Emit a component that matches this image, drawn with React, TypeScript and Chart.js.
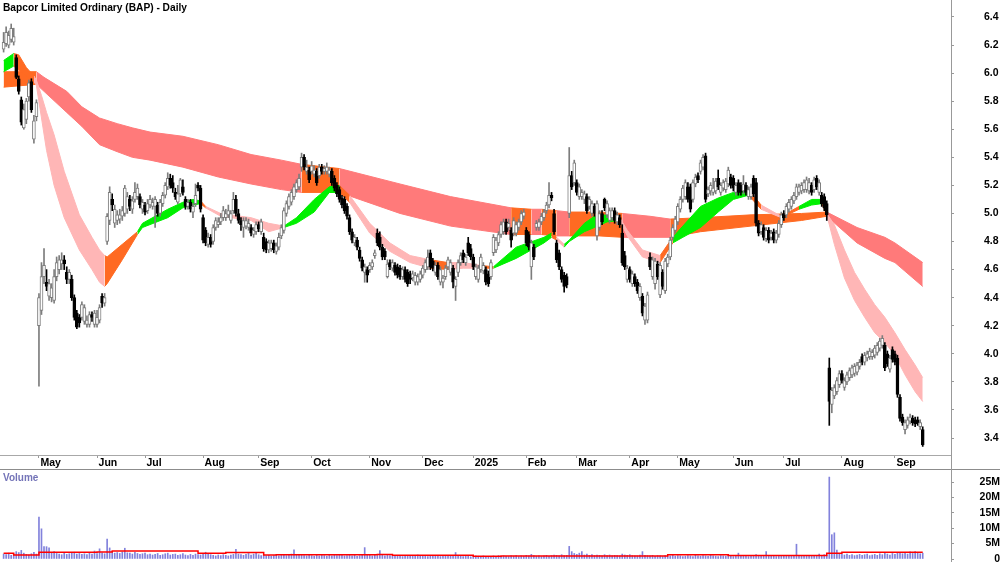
import { useEffect, useRef } from 'react';
import { Chart, registerables } from 'chart.js';

Chart.register(...registerables);

const FONT = "'Liberation Sans', Arial, Helvetica, sans-serif";
const TITLE = 'Bapcor Limited Ordinary (BAP) - Daily';

// trading-day index 0 = 10 Apr 2024 ... 364 = 16 Sep 2025
const monthTickIndex = [14, 37, 56, 79, 101, 122, 145, 166, 186, 207, 227, 248, 267, 289, 309, 332, 353];
const monthTickLabels = ['May', 'Jun', 'Jul', 'Aug', 'Sep', 'Oct', 'Nov', 'Dec', '2025', 'Feb', 'Mar', 'Apr', 'May', 'Jun', 'Jul', 'Aug', 'Sep'];
const priceTicks = [3.4, 3.6, 3.8, 4.0, 4.2, 4.4, 4.6, 4.8, 5.0, 5.2, 5.4, 5.6, 5.8, 6.0, 6.2, 6.4];
const volumeTicks = [0, 5, 10, 15, 20, 25];
const volumeTickLabels = ['0', '5M', '10M', '15M', '20M', '25M'];

const opens = [
  6.17,6.21,6.20,6.24,6.22,6.11,5.96,5.81,5.61,5.67,
  5.83,5.94,5.53,5.69,4.20,4.31,4.55,4.51,4.41,4.40,
  4.38,4.55,4.60,4.64,4.67,4.58,4.53,4.53,4.40,4.29,
  4.26,4.26,4.23,4.21,4.21,4.28,4.21,4.21,4.24,4.41,
  4.36,4.80,4.95,5.10,4.93,4.95,4.96,4.98,5.00,5.03,
  5.10,5.03,5.10,5.12,5.12,5.03,5.06,5.02,5.06,5.05,
  5.05,5.06,5.00,5.07,5.13,5.19,5.25,5.22,5.15,5.08,
  5.14,5.19,5.10,5.05,5.08,5.01,5.07,5.20,5.18,4.97,
  4.88,4.78,4.83,4.80,4.90,4.92,4.94,4.97,4.97,4.99,
  4.95,5.02,5.10,5.00,4.95,4.90,4.91,4.90,4.90,4.85,
  4.87,4.92,4.87,4.83,4.80,4.74,4.75,4.79,4.73,4.76,
  4.84,4.88,5.00,5.05,5.08,5.12,5.17,5.19,5.33,5.40,
  5.30,5.31,5.30,5.28,5.30,5.27,5.33,5.30,5.30,5.28,
  5.30,5.25,5.20,5.17,5.11,5.10,5.05,4.97,4.87,4.79,
  4.81,4.74,4.67,4.58,4.60,4.60,4.62,4.70,4.86,4.83,
  4.76,4.73,4.55,4.65,4.61,4.63,4.62,4.61,4.55,4.60,
  4.58,4.57,4.54,4.51,4.51,4.53,4.56,4.60,4.62,4.72,
  4.66,4.58,4.63,4.51,4.51,4.55,4.62,4.58,4.61,4.48,
  4.58,4.65,4.72,4.65,4.79,4.75,4.69,4.55,4.53,4.60,
  4.59,4.60,4.57,4.55,4.72,4.74,4.79,4.85,4.87,4.94,
  4.90,4.88,4.86,4.86,4.90,4.94,4.98,4.88,4.85,4.62,
  4.76,4.90,4.90,4.94,4.97,5.02,5.06,5.13,5.00,4.79,
  4.72,4.60,4.56,4.55,5.00,5.27,5.22,5.22,5.12,5.12,
  5.10,5.12,5.05,5.00,5.05,4.84,4.90,5.00,5.10,4.99,
  4.95,4.97,5.02,4.94,4.97,4.86,4.70,4.53,4.60,4.50,
  4.55,4.51,4.40,4.41,4.24,4.24,4.69,4.55,4.50,4.64,
  4.42,4.58,4.45,4.64,4.69,4.83,4.88,4.94,5.03,5.10,
  5.12,5.19,5.19,5.10,5.21,5.27,5.30,5.33,5.41,5.14,
  5.16,5.15,5.16,5.25,5.15,5.18,5.17,5.21,5.26,5.25,
  5.15,5.22,5.20,5.16,5.20,5.12,5.12,5.25,5.22,4.93,
  4.87,4.90,4.82,4.88,4.83,4.87,4.81,4.85,4.92,5.00,
  4.99,5.03,5.05,5.09,5.12,5.15,5.16,5.17,5.17,5.16,
  5.20,5.17,5.25,5.15,5.13,5.12,5.07,3.90,3.64,3.70,
  3.73,3.78,3.86,3.76,3.80,3.83,3.85,3.86,3.87,3.91,
  3.98,3.94,3.97,3.98,3.98,3.99,4.01,4.04,4.06,4.06,
  4.00,3.89,4.03,4.00,3.97,3.69,3.55,3.46,3.49,3.52,
  3.54,3.53,3.53,3.48,3.46,
];
const highs = [
  6.29,6.33,6.30,6.35,6.32,6.13,5.98,5.83,5.78,5.82,
  5.95,5.96,5.70,5.81,4.43,4.65,4.75,4.60,4.53,4.50,
  4.60,4.69,4.70,4.72,4.70,4.62,4.60,4.56,4.42,4.31,
  4.28,4.37,4.35,4.27,4.30,4.30,4.31,4.31,4.35,4.43,
  4.43,5.00,5.19,5.14,5.06,5.02,5.03,5.05,5.20,5.15,
  5.13,5.12,5.22,5.21,5.14,5.10,5.08,5.10,5.13,5.11,
  5.12,5.08,5.10,5.15,5.22,5.29,5.28,5.27,5.18,5.20,
  5.25,5.24,5.12,5.10,5.10,5.07,5.21,5.22,5.20,4.99,
  4.90,4.86,4.85,4.92,4.97,4.97,5.00,5.05,5.03,5.06,
  5.02,5.15,5.13,5.03,4.97,4.97,4.97,4.96,4.92,4.90,
  4.94,4.94,4.96,4.86,4.82,4.81,4.81,4.81,4.79,4.86,
  4.92,5.04,5.09,5.14,5.17,5.21,5.24,5.28,5.43,5.42,
  5.38,5.33,5.37,5.34,5.32,5.35,5.35,5.34,5.36,5.33,
  5.32,5.27,5.22,5.19,5.13,5.12,5.07,4.99,4.89,4.85,
  4.83,4.76,4.69,4.64,4.62,4.65,4.67,4.74,4.89,4.87,
  4.78,4.75,4.67,4.67,4.67,4.65,4.64,4.63,4.62,4.62,
  4.60,4.59,4.59,4.58,4.57,4.59,4.63,4.67,4.74,4.74,
  4.68,4.65,4.65,4.62,4.56,4.63,4.69,4.67,4.63,4.55,
  4.67,4.72,4.74,4.71,4.83,4.78,4.71,4.64,4.63,4.71,
  4.65,4.62,4.59,4.67,4.85,4.83,4.87,4.94,4.96,4.96,
  4.96,4.90,4.97,4.94,4.96,5.02,5.03,4.90,4.87,4.81,
  4.78,4.95,4.96,5.00,5.03,5.08,5.22,5.15,5.03,4.81,
  4.74,4.62,4.58,4.57,5.47,5.30,5.38,5.24,5.21,5.17,
  5.16,5.14,5.12,5.09,5.07,5.09,5.02,5.02,5.11,5.09,
  5.04,5.04,5.04,5.01,4.99,4.92,4.73,4.63,4.62,4.59,
  4.57,4.53,4.50,4.43,4.36,4.44,4.72,4.69,4.68,4.66,
  4.65,4.60,4.68,4.71,4.83,4.92,4.98,5.07,5.12,5.20,
  5.24,5.22,5.21,5.24,5.28,5.29,5.38,5.42,5.43,5.19,
  5.22,5.25,5.25,5.31,5.22,5.24,5.25,5.33,5.28,5.27,
  5.22,5.24,5.22,5.27,5.22,5.19,5.21,5.27,5.25,4.95,
  4.94,4.92,4.90,4.90,4.88,4.89,4.88,4.95,5.01,5.02,
  5.07,5.10,5.12,5.15,5.21,5.21,5.22,5.24,5.26,5.25,
  5.22,5.26,5.27,5.24,5.15,5.14,5.09,3.97,3.76,3.78,
  3.83,3.88,3.88,3.83,3.87,3.90,3.92,3.93,3.94,3.96,
  4.00,4.01,4.02,4.04,4.03,4.06,4.08,4.11,4.13,4.08,
  4.02,3.99,4.05,4.02,3.99,3.71,3.57,3.53,3.55,3.57,
  3.56,3.55,3.55,3.53,3.48,
];
const lows = [
  6.15,6.19,6.18,6.22,6.20,5.96,5.85,5.63,5.60,5.64,
  5.80,5.72,5.50,5.66,3.77,4.28,4.50,4.45,4.38,4.37,
  4.36,4.52,4.57,4.60,4.60,4.50,4.50,4.38,4.24,4.18,
  4.19,4.24,4.21,4.19,4.19,4.23,4.19,4.19,4.22,4.33,
  4.34,4.78,4.92,5.02,4.90,4.92,4.93,4.95,4.98,5.00,
  5.02,5.00,5.08,5.10,5.04,5.00,4.99,5.00,5.04,5.03,
  4.90,4.98,4.98,5.05,5.11,5.17,5.18,5.15,5.10,5.07,
  5.12,5.13,5.03,5.03,5.01,4.97,5.05,5.16,5.01,4.79,
  4.77,4.76,4.76,4.78,4.88,4.90,4.92,4.95,4.95,4.97,
  4.93,5.00,4.98,4.93,4.88,4.83,4.89,4.88,4.84,4.83,
  4.85,4.87,4.85,4.73,4.72,4.72,4.73,4.72,4.71,4.74,
  4.82,4.86,4.98,5.03,5.06,5.10,5.15,5.17,5.30,5.31,
  5.28,5.22,5.28,5.26,5.20,5.25,5.28,5.28,5.28,5.26,
  5.20,5.16,5.12,5.08,5.04,5.00,4.96,4.85,4.79,4.77,
  4.74,4.66,4.59,4.51,4.51,4.58,4.60,4.68,4.77,4.74,
  4.67,4.67,4.54,4.60,4.59,4.56,4.54,4.53,4.53,4.51,
  4.48,4.50,4.52,4.49,4.49,4.51,4.54,4.58,4.60,4.60,
  4.59,4.56,4.53,4.49,4.47,4.53,4.60,4.56,4.47,4.38,
  4.55,4.63,4.65,4.63,4.70,4.67,4.60,4.53,4.51,4.58,
  4.57,4.49,4.48,4.53,4.70,4.72,4.77,4.83,4.85,4.85,
  4.88,4.76,4.84,4.84,4.88,4.92,4.96,4.77,4.74,4.53,
  4.67,4.88,4.88,4.92,4.95,5.00,5.04,5.09,4.85,4.65,
  4.60,4.51,4.44,4.47,4.97,5.17,5.20,5.13,5.10,5.10,
  5.07,5.00,5.03,4.98,4.98,4.81,4.88,4.92,5.02,4.97,
  4.93,4.95,4.93,4.92,4.90,4.63,4.60,4.51,4.51,4.48,
  4.48,4.43,4.38,4.27,4.21,4.22,4.60,4.53,4.46,4.53,
  4.40,4.46,4.43,4.62,4.67,4.81,4.86,4.92,5.01,5.08,
  5.10,5.08,5.01,5.08,5.19,5.22,5.28,5.31,5.08,5.12,
  5.13,5.13,5.14,5.17,5.13,5.16,5.15,5.19,5.18,5.16,
  5.13,5.13,5.13,5.14,5.13,5.10,5.10,5.12,4.91,4.84,
  4.85,4.81,4.80,4.79,4.81,4.79,4.79,4.83,4.90,4.95,
  4.97,5.01,5.03,5.07,5.10,5.13,5.14,5.15,5.15,5.14,
  5.13,5.15,5.17,5.13,5.05,5.02,4.95,3.49,3.58,3.68,
  3.71,3.76,3.79,3.74,3.78,3.81,3.83,3.84,3.85,3.89,
  3.92,3.92,3.95,3.96,3.96,3.97,3.99,4.02,4.04,3.88,
  3.91,3.87,3.94,3.92,3.69,3.52,3.49,3.43,3.47,3.50,
  3.49,3.48,3.49,3.46,3.34,
];
const closes = [
  6.22,6.29,6.27,6.32,6.26,5.97,5.87,5.65,5.74,5.80,
  5.93,5.74,5.66,5.79,4.40,4.55,4.63,4.48,4.50,4.47,
  4.55,4.65,4.67,4.67,4.64,4.53,4.58,4.40,4.26,4.19,
  4.22,4.35,4.33,4.24,4.28,4.26,4.29,4.26,4.33,4.36,
  4.40,4.98,5.15,5.06,5.03,4.99,4.99,5.02,5.18,5.12,
  5.05,5.09,5.15,5.18,5.06,5.08,5.01,5.07,5.10,5.08,
  5.10,5.00,5.08,5.13,5.20,5.25,5.20,5.18,5.12,5.14,
  5.24,5.15,5.05,5.08,5.03,5.05,5.13,5.18,5.03,4.81,
  4.79,4.83,4.78,4.90,4.95,4.94,4.97,5.02,5.00,5.02,
  5.00,5.10,5.00,4.95,4.92,4.95,4.95,4.93,4.86,4.88,
  4.92,4.89,4.94,4.75,4.74,4.79,4.79,4.74,4.77,4.83,
  4.90,5.02,5.07,5.12,5.15,5.19,5.22,5.25,5.40,5.33,
  5.33,5.24,5.34,5.31,5.22,5.33,5.30,5.32,5.33,5.31,
  5.22,5.18,5.14,5.10,5.06,5.02,4.98,4.87,4.81,4.83,
  4.76,4.68,4.61,4.62,4.56,4.63,4.65,4.72,4.79,4.76,
  4.69,4.69,4.64,4.62,4.65,4.58,4.56,4.55,4.60,4.53,
  4.50,4.53,4.57,4.56,4.55,4.57,4.61,4.65,4.69,4.62,
  4.61,4.63,4.55,4.60,4.54,4.61,4.67,4.65,4.51,4.53,
  4.65,4.70,4.67,4.69,4.72,4.69,4.62,4.62,4.61,4.69,
  4.63,4.51,4.50,4.65,4.83,4.81,4.85,4.92,4.94,4.87,
  4.93,4.81,4.95,4.92,4.94,5.00,5.01,4.79,4.76,4.79,
  4.69,4.93,4.94,4.98,5.01,5.06,5.13,5.11,4.87,4.67,
  4.62,4.53,4.48,4.49,5.27,5.19,5.36,5.15,5.19,5.15,
  5.14,5.02,5.10,5.07,5.00,5.07,5.00,4.94,5.04,5.07,
  5.02,5.02,4.95,4.99,4.92,4.65,4.62,4.61,4.53,4.57,
  4.50,4.45,4.48,4.29,4.34,4.42,4.62,4.67,4.66,4.55,
  4.63,4.48,4.66,4.69,4.81,4.90,4.96,5.05,5.10,5.18,
  5.22,5.10,5.03,5.22,5.26,5.24,5.36,5.40,5.10,5.17,
  5.20,5.18,5.23,5.19,5.20,5.22,5.23,5.31,5.20,5.18,
  5.20,5.15,5.15,5.21,5.15,5.17,5.19,5.14,4.93,4.86,
  4.92,4.83,4.88,4.81,4.86,4.81,4.86,4.93,4.99,4.97,
  5.05,5.08,5.10,5.13,5.19,5.19,5.20,5.22,5.24,5.22,
  5.15,5.24,5.19,5.22,5.07,5.04,4.99,3.66,3.74,3.76,
  3.81,3.86,3.81,3.81,3.85,3.88,3.90,3.91,3.92,3.94,
  3.94,3.99,4.00,4.02,4.01,4.04,4.06,4.09,4.11,3.90,
  3.93,3.97,3.96,3.94,3.71,3.54,3.51,3.51,3.53,3.55,
  3.51,3.50,3.51,3.51,3.35,
];

// daily volume, millions of shares
const volumes = [
  1.6,1.4,1.9,1.2,1.5,2.4,2.1,2.8,1.9,1.5,
  1.3,1.7,2.2,1.6,13.6,9.8,4.0,4.0,3.6,2.0,
  2.4,1.8,1.6,1.4,1.9,1.5,1.7,2.0,2.2,1.6,
  1.8,1.5,1.7,1.4,1.9,1.6,2.6,1.8,3.3,2.0,
  1.7,6.5,3.6,2.4,1.9,2.1,1.8,2.3,3.5,2.0,
  1.9,1.6,2.2,1.8,1.5,1.7,1.9,1.4,1.6,1.3,
  1.5,1.8,1.2,1.4,1.7,1.9,1.3,1.5,1.6,1.2,
  1.4,1.8,1.3,1.1,1.5,1.2,1.6,1.4,1.3,1.7,
  2.2,1.6,1.4,1.2,1.0,1.3,1.1,1.4,1.2,1.0,
  1.3,1.5,3.1,1.6,1.4,1.2,1.5,1.8,1.3,1.6,
  2.0,1.4,1.1,1.3,1.0,1.2,0.9,1.1,1.3,1.0,
  1.2,1.4,1.1,1.3,1.6,3.0,1.5,1.2,1.4,1.1,
  1.0,1.3,1.1,0.9,1.2,1.0,1.4,1.1,0.9,1.2,
  1.0,1.3,1.1,1.4,1.2,1.0,1.1,1.3,1.0,1.2,
  0.9,1.1,1.3,3.7,1.4,1.2,1.0,1.3,1.1,2.7,
  1.2,1.0,1.3,1.1,0.9,1.2,1.0,1.1,0.8,1.0,
  1.2,0.9,1.1,1.0,1.3,0.9,1.1,1.0,0.8,1.2,
  1.0,0.9,1.1,0.8,1.0,1.2,0.9,1.1,1.0,2.1,
  0.9,1.0,0.8,1.1,0.9,0.7,0.8,1.0,0.9,0.8,
  1.0,0.9,0.7,0.8,1.0,0.9,1.1,0.8,1.0,0.9,
  0.8,1.0,0.9,1.1,0.8,1.0,0.9,1.2,1.0,1.5,
  1.1,0.9,1.0,0.8,1.0,1.2,0.9,1.1,1.3,1.2,
  1.0,1.4,1.1,1.2,4.1,2.4,1.8,1.5,1.9,2.4,
  1.3,1.6,1.2,1.4,1.1,1.3,1.2,1.0,1.4,1.1,
  1.3,1.0,1.2,1.1,1.0,1.6,1.3,1.2,1.4,1.1,
  1.0,1.0,1.3,2.4,1.2,1.1,1.0,1.2,0.9,1.1,
  1.0,0.8,1.1,0.9,1.0,1.2,0.9,1.1,1.0,0.8,
  0.9,1.1,1.0,0.8,1.2,1.0,0.9,1.1,1.0,0.9,
  1.2,1.0,0.9,0.8,1.1,1.0,0.9,1.3,1.0,0.8,
  1.0,1.9,1.1,0.9,1.0,0.8,1.2,1.0,1.4,1.1,
  1.0,1.2,2.4,0.9,1.1,1.0,0.8,1.0,0.9,1.1,
  1.0,0.9,1.2,1.0,4.8,1.1,0.9,0.9,1.2,1.0,
  0.9,1.1,1.0,1.6,1.2,1.4,1.3,26.6,7.9,8.5,
  2.9,1.8,1.5,1.3,1.6,1.2,1.4,1.1,1.3,1.5,
  1.2,1.4,1.6,1.1,1.3,1.5,1.2,1.7,1.4,2.0,
  1.6,1.3,1.8,1.5,1.9,2.2,1.7,2.0,1.6,2.3,
  1.8,2.4,2.1,1.7,1.9,
];

// volume average (red line), value holds from index until next index
const volAvgIdx = [0, 4, 14, 37, 43, 77, 88, 103, 108, 148, 154, 186, 197, 263, 287, 326, 332, 364];
const volAvg = [1.85, 1.3, 2.2, 2.3, 2.6, 1.85, 2.1, 1.3, 1.4, 1.5, 1.2, 0.9, 1.0, 1.4, 1.1, 1.85, 2.2, 2.2];

// long-term moving-average ribbon (edges read at these day indices); state: B bullish, R bearish
const longIdx = [0, 13, 16, 25, 31, 38, 45, 51, 58, 71, 85, 98, 110, 118, 133, 157, 177, 189, 201, 209, 213, 219, 224, 236, 245, 256, 264, 276, 296, 316, 326, 338, 349, 353, 364];
const longUpper = [6.01, 6.01, 5.97, 5.87, 5.76, 5.68, 5.64, 5.61, 5.58, 5.55, 5.49, 5.42, 5.38, 5.35, 5.32, 5.21, 5.12, 5.08, 5.04, 5.03, 5.03, 5.02, 5.01, 5.01, 5.00, 4.98, 4.96, 4.97, 4.99, 5.00, 5.01, 4.90, 4.83, 4.79, 4.65];
const longLower = [5.90, 5.92, 5.87, 5.72, 5.62, 5.49, 5.44, 5.40, 5.38, 5.33, 5.26, 5.21, 5.17, 5.15, 5.15, 5.00, 4.91, 4.88, 4.85, 4.85, 4.85, 4.84, 4.84, 4.84, 4.83, 4.83, 4.83, 4.87, 4.91, 4.95, 4.98, 4.79, 4.68, 4.65, 4.48];
const longState = ['B', 'R', 'R', 'R', 'R', 'R', 'R', 'R', 'R', 'R', 'R', 'R', 'R', 'B', 'R', 'R', 'R', 'R', 'B', 'R', 'B', 'R', 'B', 'B', 'R', 'R', 'B', 'B', 'B', 'B', 'R', 'R', 'R', 'R', 'R'];

// short-term ribbon; state: G rising above, T transition, P falling
const shortIdx = [0, 4, 6, 9, 12, 13, 15, 17, 20, 24, 30, 35, 38, 40, 41, 47, 53, 55, 65, 71, 75, 78, 80, 86, 98, 105, 111, 116, 123, 129, 133, 137, 145, 153, 161, 169, 176, 182, 189, 194, 203, 214, 217, 219, 222, 224, 230, 234, 239, 244, 247, 253, 260, 265, 269, 276, 283, 289, 295, 300, 308, 315, 320, 324, 326, 329, 333, 337, 341, 345, 349, 353, 357, 361, 364];
const shortUpper = [6.09, 6.14, 6.13, 6.04, 5.98, 5.95, 5.84, 5.72, 5.56, 5.30, 4.99, 4.83, 4.74, 4.70, 4.69, 4.78, 4.87, 4.93, 5.03, 5.08, 5.10, 5.09, 5.05, 5.00, 4.97, 4.93, 4.91, 4.97, 5.10, 5.19, 5.20, 5.13, 4.93, 4.79, 4.70, 4.67, 4.65, 4.65, 4.63, 4.62, 4.76, 4.83, 4.86, 4.83, 4.78, 4.81, 4.93, 4.98, 4.99, 4.97, 4.88, 4.74, 4.70, 4.83, 4.91, 5.05, 5.11, 5.15, 5.17, 5.06, 4.98, 5.05, 5.10, 5.10, 5.00, 4.92, 4.74, 4.58, 4.46, 4.35, 4.26, 4.15, 4.03, 3.92, 3.83];
const shortLower = [6.01, 6.05, 6.02, 5.98, 5.94, 5.91, 5.68, 5.45, 5.20, 4.97, 4.74, 4.60, 4.51, 4.48, 4.50, 4.67, 4.85, 4.90, 4.97, 5.04, 5.06, 5.07, 5.04, 4.98, 4.95, 4.87, 4.90, 4.93, 5.01, 5.15, 5.15, 5.08, 4.86, 4.73, 4.65, 4.61, 4.60, 4.61, 4.61, 4.61, 4.68, 4.79, 4.83, 4.81, 4.76, 4.80, 4.87, 4.90, 4.94, 4.95, 4.84, 4.69, 4.65, 4.79, 4.83, 4.90, 5.01, 5.10, 5.13, 5.03, 4.97, 5.03, 5.06, 5.07, 4.99, 4.78, 4.54, 4.38, 4.26, 4.15, 4.08, 3.99, 3.85, 3.73, 3.66];
const shortState = ['G', 'T', 'T', 'T', 'P', 'P', 'P', 'P', 'P', 'P', 'P', 'P', 'P', 'T', 'T', 'T', 'G', 'G', 'G', 'G', 'G', 'T', 'P', 'P', 'P', 'P', 'G', 'G', 'G', 'G', 'T', 'P', 'P', 'P', 'P', 'T', 'P', 'P', 'T', 'G', 'G', 'G', 'T', 'P', 'G', 'G', 'G', 'G', 'G', 'P', 'P', 'P', 'T', 'G', 'G', 'G', 'G', 'G', 'T', 'P', 'T', 'G', 'G', 'T', 'P', 'P', 'P', 'P', 'P', 'P', 'P', 'P', 'P', 'P', 'P'];

const LONG_COLORS: Record<string, string> = { B: '#ff6a22', R: '#ff7a7a' };
const SHORT_COLORS: Record<string, string> = { G: '#00f000', T: '#ff6a22', P: '#ffb6b6' };

const X_MIN = -1.43;
const X_MAX = 375.2;

function bandDatasets(idx: number[], upper: number[], lower: number[], state: string[], palette: Record<string, string>, order: number) {
  const out: any[] = [];
  let start = 0;
  for (let k = 1; k < idx.length; k++) {
    const last = k === idx.length - 1;
    if (last || state[k] !== state[start]) {
      const color = palette[state[start]];
      const pts = (vals: number[]) => idx.slice(start, k + 1).map((x, j) => ({ x, y: vals[start + j] }));
      out.push({ type: 'line', data: pts(upper), borderColor: color, backgroundColor: color, borderWidth: 1, fill: '+1', pointRadius: 0, tension: 0, order });
      out.push({ type: 'line', data: pts(lower), borderColor: color, backgroundColor: color, borderWidth: 1, fill: false, pointRadius: 0, tension: 0, order });
      start = k;
    }
  }
  return out;
}

const tickFont = { family: FONT, size: 10.5, weight: 'bold' as const, lineHeight: 1 };

export default function App() {
  const priceRef = useRef<HTMLCanvasElement>(null);
  const volRef = useRef<HTMLCanvasElement>(null);

  useEffect(() => {
    const up = closes.map((c, i) => c >= opens[i]);
    const bodyData = closes.map((c, i) => ({ x: i, y: [Math.min(opens[i], c), Math.max(opens[i], c)] }));
    const wickData = closes.map((_, i) => ({ x: i, y: [lows[i], highs[i]] }));
    const GRAY = '#7d7d7d';

    const priceChart = new Chart(priceRef.current as HTMLCanvasElement, {
      type: 'bar',
      data: {
        datasets: [
          {
            type: 'bar', data: bodyData as any, grouped: false, barThickness: 3, minBarLength: 1,
            backgroundColor: up.map((u) => (u ? '#ffffff' : '#000000')),
            borderColor: up.map((u) => (u ? GRAY : '#000000')),
            borderWidth: 1, borderSkipped: false, order: 0,
          },
          {
            type: 'bar', data: wickData as any, grouped: false, barThickness: 1,
            backgroundColor: up.map((u) => (u ? GRAY : '#000000')),
            borderWidth: 0, order: 1,
          },
          ...bandDatasets(shortIdx, shortUpper, shortLower, shortState, SHORT_COLORS, 5),
          ...bandDatasets(longIdx, longUpper, longLower, longState, LONG_COLORS, 6),
        ] as any,
      },
      options: {
        responsive: false,
        animation: false,
        devicePixelRatio: 1,
        events: [],
        layout: { padding: 0 },
        plugins: { legend: { display: false }, tooltip: { enabled: false }, title: { display: false } },
        scales: {
          x: {
            type: 'linear', min: X_MIN, max: X_MAX, offset: false, position: 'bottom',
            grid: { drawOnChartArea: false, drawTicks: true, tickLength: 3, color: '#999999', offset: false },
            border: { display: true, color: '#a8a8a8' },
            ticks: {
              autoSkip: false, maxRotation: 0, minRotation: 0, align: 'start', labelOffset: 1.5, padding: 0,
              font: tickFont, color: '#000000',
              callback: (_v: any, i: number) => monthTickLabels[i] ?? '',
            },
            afterBuildTicks: (s: any) => { s.ticks = monthTickIndex.map((v) => ({ value: v })); },
            afterFit: (s: any) => { s.height = 14; s.paddingLeft = 0; s.paddingRight = 0; },
          },
          y: {
            type: 'linear', position: 'right', min: 3.279, max: 6.521,
            grid: { drawOnChartArea: false, drawTicks: true, tickLength: 3, color: '#999999', offset: false },
            border: { display: true, color: '#999999' },
            ticks: { font: tickFont, color: '#000000', padding: 30, callback: (v: any) => Number(v).toFixed(1) },
            afterBuildTicks: (s: any) => { s.ticks = priceTicks.map((v) => ({ value: v })); },
            afterFit: (s: any) => { s.width = 49; s.paddingTop = 0; s.paddingBottom = 0; },
          },
        },
      } as any,
    });

    const volChart = new Chart(volRef.current as HTMLCanvasElement, {
      type: 'bar',
      data: {
        datasets: [
          {
            type: 'line', data: volAvgIdx.map((x, k) => ({ x, y: volAvg[k] })) as any, stepped: 'before',
            borderColor: '#ff0000', borderWidth: 1.5, pointRadius: 0, fill: false, order: 0,
          },
          {
            type: 'bar', data: volumes.map((v, i) => ({ x: i, y: v })) as any, grouped: false, barThickness: 1,
            backgroundColor: '#8282dc', borderWidth: 0, order: 1,
          },
        ] as any,
      },
      options: {
        responsive: false,
        animation: false,
        devicePixelRatio: 1,
        events: [],
        layout: { padding: 0 },
        plugins: { legend: { display: false }, tooltip: { enabled: false } },
        scales: {
          x: { type: 'linear', min: X_MIN, max: X_MAX, offset: false, display: false, grid: { offset: false } },
          y: {
            type: 'linear', position: 'right', min: -0.974, max: 28.9,
            grid: { drawOnChartArea: false, drawTicks: true, tickLength: 3, color: '#999999', offset: false },
            border: { display: true, color: '#999999' },
            ticks: { font: tickFont, color: '#000000', padding: 24, crossAlign: 'far', callback: (_v: any, i: number) => volumeTickLabels[i] ?? '' },
            afterBuildTicks: (s: any) => { s.ticks = volumeTicks.map((v) => ({ value: v })); },
            afterFit: (s: any) => { s.width = 49; s.paddingTop = 0; s.paddingBottom = 0; },
          },
        },
      } as any,
    });

    return () => {
      priceChart.destroy();
      volChart.destroy();
    };
  }, []);

  return (
    <div style={{ position: 'fixed', left: 0, top: 0, width: 1000, height: 562, background: '#ffffff', overflow: 'hidden' }}>
      <canvas ref={priceRef} width={1000} height={469} style={{ position: 'absolute', left: 0, top: 0, width: 1000, height: 469 }} />
      <canvas ref={volRef} width={1000} height={92} style={{ position: 'absolute', left: 0, top: 470, width: 1000, height: 92 }} />
      <div style={{ position: 'absolute', left: 0, top: 469, width: 1000, height: 1, background: '#8c8c8c' }} />
      <div style={{ position: 'absolute', left: 951, top: 455, width: 1, height: 15, background: '#999999' }} />
      <div style={{ position: 'absolute', left: 3, top: 2, font: `bold 10.2px ${FONT}`, lineHeight: '12px', color: '#000000', whiteSpace: 'nowrap' }}>{TITLE}</div>
      <div style={{ position: 'absolute', left: 3, top: 472, font: `bold 10px ${FONT}`, lineHeight: '12px', color: '#7474b8', whiteSpace: 'nowrap' }}>Volume</div>
    </div>
  );
}
